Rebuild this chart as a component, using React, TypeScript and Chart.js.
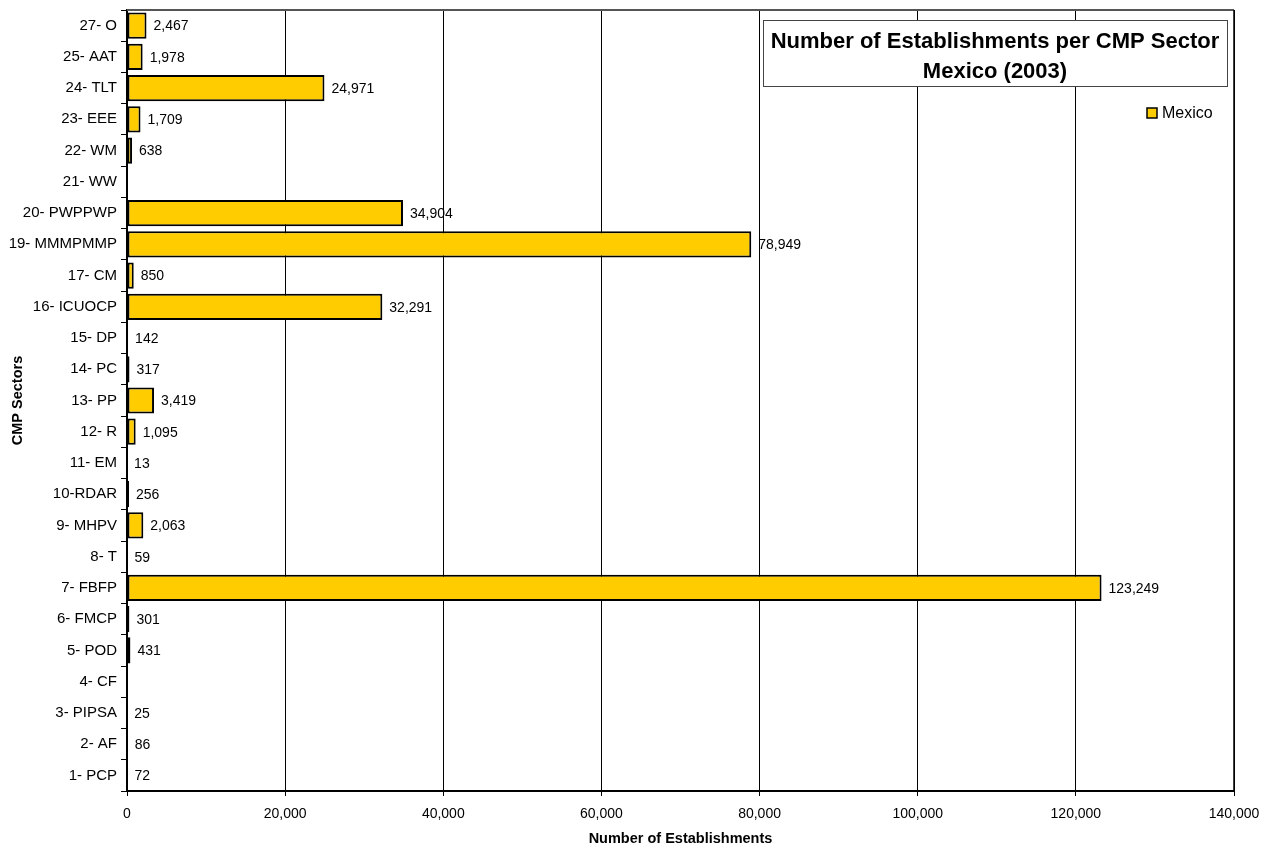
import React, { useEffect, useRef } from "react";
import { Chart, registerables } from "chart.js";

Chart.register(...registerables);

const categories: string[] = [
  "27- O", "25- AAT", "24- TLT", "23- EEE", "22- WM", "21- WW", "20- PWPPWP",
  "19- MMMPMMP", "17- CM", "16- ICUOCP", "15- DP", "14- PC", "13- PP", "12- R",
  "11- EM", "10-RDAR", "9- MHPV", "8- T", "7- FBFP", "6- FMCP", "5- POD",
  "4- CF", "3- PIPSA", "2- AF", "1- PCP",
];

const mexicoValues: (number | null)[] = [
  2467, 1978, 24971, 1709, 638, null, 34904,
  78949, 850, 32291, 142, 317, 3419, 1095,
  13, 256, 2063, 59, 123249, 301, 431,
  null, 25, 86, 72,
];

const xTickValues: number[] = [0, 20000, 40000, 60000, 80000, 100000, 120000, 140000];

const seriesName = "Mexico";
const titleLines: string[] = ["Number of Establishments per CMP Sector", "Mexico (2003)"];
const xAxisTitle = "Number of Establishments";
const yAxisTitle = "CMP Sectors";

const FONT = "'Liberation Sans', Arial, Helvetica, sans-serif";
const BAR_COLOR = "#FFCC00";

const fmt = (v: number) => v.toLocaleString("en-US");

const valueLabelPlugin = {
  id: "valueLabels",
  afterDatasetsDraw(chart: any) {
    const ctx = chart.ctx;
    const meta = chart.getDatasetMeta(0);
    const data = chart.data.datasets[0].data;
    ctx.save();
    ctx.font = `14px ${FONT}`;
    ctx.fillStyle = "#000";
    ctx.textAlign = "left";
    ctx.textBaseline = "middle";
    meta.data.forEach((bar: any, i: number) => {
      const v = data[i];
      if (v === null || v === undefined) return;
      ctx.fillText(fmt(v), bar.x + 7, bar.y + 1);
    });
    ctx.restore();
  },
};

const overlayPlugin = {
  id: "overlay",
  afterDraw(chart: any) {
    const ctx = chart.ctx;
    const a = chart.chartArea;
    ctx.save();
    // top border of plot area
    ctx.strokeStyle = "#555";
    ctx.lineWidth = 2;
    ctx.beginPath();
    ctx.moveTo(a.left, a.top);
    ctx.lineTo(a.right, a.top);
    ctx.stroke();
    // right border
    ctx.strokeStyle = "#000";
    ctx.lineWidth = 1.5;
    ctx.beginPath();
    ctx.moveTo(a.right, a.top);
    ctx.lineTo(a.right, a.bottom);
    ctx.stroke();

    // title box
    const bx = a.right - 471;
    const by = a.top + 10;
    const bw = 464;
    const bh = 66;
    ctx.fillStyle = "#fff";
    ctx.fillRect(bx, by, bw, bh);
    ctx.strokeStyle = "#444";
    ctx.lineWidth = 1;
    ctx.strokeRect(bx + 0.5, by + 0.5, bw, bh);
    ctx.fillStyle = "#000";
    ctx.font = `bold 22px ${FONT}`;
    ctx.textAlign = "center";
    ctx.textBaseline = "alphabetic";
    ctx.fillText(titleLines[0], bx + bw / 2, by + 28);
    ctx.fillText(titleLines[1], bx + bw / 2, by + 58);

    // legend
    const lx = a.right - 87;
    const ly = a.top + 98;
    ctx.fillStyle = BAR_COLOR;
    ctx.fillRect(lx, ly, 10, 10);
    ctx.strokeStyle = "#000";
    ctx.lineWidth = 1.5;
    ctx.strokeRect(lx, ly, 10, 10);
    ctx.fillStyle = "#000";
    ctx.font = `16px ${FONT}`;
    ctx.textAlign = "left";
    ctx.textBaseline = "middle";
    ctx.fillText(seriesName, lx + 15, ly + 5.5);
    ctx.restore();
  },
};

export default function App() {
  const canvasRef = useRef<HTMLCanvasElement | null>(null);

  useEffect(() => {
    const canvas = canvasRef.current;
    if (!canvas) return;
    const chart = new Chart(canvas, {
      type: "bar",
      data: {
        labels: categories,
        datasets: [
          {
            label: seriesName,
            data: mexicoValues,
            backgroundColor: BAR_COLOR,
            borderColor: "#000",
            borderWidth: 2,
            borderSkipped: false,
            barPercentage: 0.84,
            categoryPercentage: 1.0,
          },
        ],
      },
      options: {
        indexAxis: "y",
        responsive: false,
        animation: false,
        events: [],
        layout: { padding: { top: 10, right: 37, left: 0, bottom: 0 } },
        plugins: {
          legend: { display: false },
          title: { display: false },
          tooltip: { enabled: false },
        },
        scales: {
          x: {
            type: "linear",
            min: 0,
            max: 140000,
            afterBuildTicks: (scale: any) => {
              scale.ticks = xTickValues.map((v) => ({ value: v }));
            },
            afterFit: (scale: any) => {
              scale.height = 55;
            },
            ticks: {
              color: "#000",
              font: { family: FONT, size: 14 },
              padding: 10,
              maxRotation: 0,
              callback: (v: any) => fmt(Number(v)),
            },
            grid: {
              color: "#000",
              lineWidth: 1,
              tickLength: 5,
            },
            border: { display: true, color: "#000", width: 2 },
            title: {
              display: true,
              text: xAxisTitle,
              color: "#000",
              font: { family: FONT, size: 14.5, weight: "bold" },
              padding: { top: 0, bottom: -1.5 },
            },
          },
          y: {
            type: "category",
            afterFit: (scale: any) => {
              scale.width = 127;
              scale.paddingTop = 0;
              scale.paddingBottom = 0;
            },
            ticks: {
              color: "#000",
              font: { family: FONT, size: 15 },
              padding: 4,
              autoSkip: false,
            },
            grid: {
              display: true,
              drawOnChartArea: false,
              color: "#000",
              tickLength: 6,
              offset: true,
            },
            border: { display: true, color: "#000", width: 2 },
            title: {
              display: true,
              text: yAxisTitle,
              color: "#000",
              font: { family: FONT, size: 14.5, weight: "bold" },
              padding: { top: 9, bottom: 0 },
            },
          },
        },
      } as any,
      plugins: [valueLabelPlugin, overlayPlugin],
    });
    return () => chart.destroy();
  }, []);

  return (
    <div style={{ position: "absolute", left: 0, top: 0, width: 1271, height: 846, background: "#fff" }}>
      <canvas ref={canvasRef} width={1271} height={846} style={{ display: "block" }} />
    </div>
  );
}
